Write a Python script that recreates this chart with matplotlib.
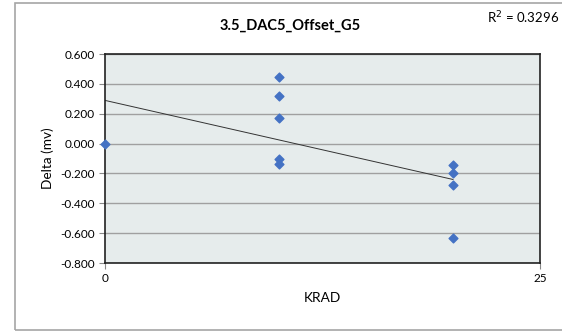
import matplotlib.pyplot as plt
import matplotlib.patches as patches
import numpy as np

# data
krad = [0, 10, 10, 10, 10, 10, 20, 20, 20, 20]
delta = [0.0, 0.448, 0.317, 0.172, -0.100, -0.136, -0.141, -0.199, -0.280, -0.631]
r2_text = 'R$^2$ = 0.3296'
yticks = [-0.8, -0.6, -0.4, -0.2, 0.0, 0.2, 0.4, 0.6]
xticks = [0, 25]

plt.rcParams['font.family'] = ['Lato', 'DejaVu Sans']

fig = plt.figure(figsize=(5.62, 3.33), dpi=100)
ax = fig.add_axes([0.1868, 0.2102, 0.774, 0.6276])
ax.set_facecolor('#e6ecec')

# outer chart frame
fig.patches.append(patches.Rectangle((0.027, 0.009), 1.2, 0.982, transform=fig.transFigure,
                                     fill=False, edgecolor='#a6a6a6', lw=1.2))

ax.scatter(krad, delta, marker='D', s=20, color='#4472c4', zorder=3, clip_on=False)

# linear trendline
k, b = np.polyfit(krad, delta, 1)
xs = np.array([min(krad), max(krad)])
ax.plot(xs, k * xs + b, color='#333333', lw=0.7, zorder=2)

ax.set_xlim(0, 25)
ax.set_ylim(-0.8, 0.6)
ax.set_xticks(xticks)
ax.set_yticks(yticks)
ax.set_yticklabels(['%.3f' % v for v in yticks])
ax.yaxis.grid(True, color='#a0a0a0', lw=1)
ax.set_axisbelow(True)
ax.tick_params(labelsize=8.5, length=4, width=0.8, color='#888888')
ax.tick_params(axis='x', pad=3)
for s in ax.spines.values():
    s.set_color('#222222')
    s.set_linewidth(1.2)

ax.set_xlabel('KRAD', fontsize=9.8, labelpad=6)
ax.set_ylabel('Delta (mv)', fontsize=9.8, labelpad=4)
fig.text(0.516, 0.923, '3.5_DAC5_Offset_G5', ha='center', va='center',
         fontsize=10.5, fontweight='bold')
fig.text(0.995, 0.948, r2_text, ha='right', va='center', fontsize=9.5)

plt.savefig('out.png', dpi=100)
